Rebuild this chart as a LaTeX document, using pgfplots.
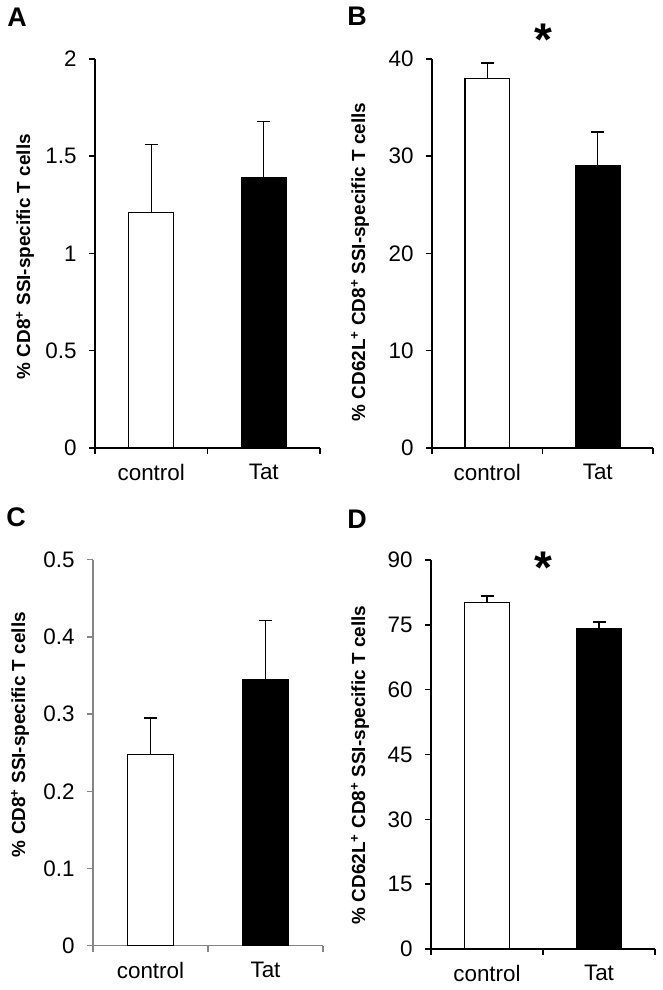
\documentclass[border=0pt]{standalone}
\usepackage{fontspec}
\setmainfont{Liberation Sans}
\usepackage{pgfplots}
\pgfplotsset{compat=1.18}
\definecolor{axgray}{HTML}{868686}
\pgfplotsset{
  panel/.style={
    scale only axis,
    axis lines*=left,
    x axis line style={-, line width=1.5bp},
    y axis line style={-, line width=1.5bp},
    xmin=-0.5, xmax=1.5,
    xtick={-0.5,0.5,1.5},
    xticklabels={},
    extra x ticks={0,1},
    extra x tick labels={control,Tat},
    extra x tick style={major tick length=0pt, tick style={draw=none}},
    tick align=outside,
    major tick length=6bp,
    tick style={line width=1.5bp, black},
    /pgf/number format/assume math mode=true,
    ticklabel style={font=\fontsize{22.5}{26}\selectfont},
    yticklabel style={xshift=-9bp},
    xticklabel style={font=\fontsize{22.5}{26}\selectfont, yshift=-13bp},
    ybar, bar width=0.4,
    enlarge x limits=false,
    clip=false,
    ymin=0,
    every axis y label/.style={rotate=90, anchor=center, font=\bfseries\fontsize{19}{21}\selectfont},
    error bars/error bar style={line width=1.4bp, black},
    error bars/error mark options={rotate=90, mark size=6.5bp, line width=1.4bp, black},
  },
  wbar/.style={fill=white, draw=black, line width=1.4bp, bar shift=0pt,
    error bars/.cd, y dir=plus, y explicit},
  bbar/.style={fill=black, draw=black, line width=1.4bp, bar shift=0pt,
    error bars/.cd, y dir=plus, y explicit},
}
\begin{document}
\begin{tikzpicture}
\path[use as bounding box] (0bp,0bp) rectangle (663bp,990bp);
% Panel A
\begin{axis}[panel, at={(95bp,542bp)}, anchor=south west, width=225bp, height=389bp,
  ymax=2, ytick={0,0.5,1,1.5,2},
  ylabel={\% CD8\textsuperscript{+} SSI-specific T cells},
  ylabel style={at={(axis description cs:-0.311,0.492)}}]
\addplot[wbar] coordinates {(0,1.21) +- (0,0.35)};
\addplot[bbar] coordinates {(1,1.39) +- (0,0.29)};
\end{axis}
% Panel B
\begin{axis}[panel, at={(432bp,542bp)}, anchor=south west, width=221bp, height=389bp,
  ymax=40, ytick={0,10,20,30,40},
  ylabel={\% CD62L\textsuperscript{+} CD8\textsuperscript{+} SSI-specific T cells},
  ylabel style={at={(axis description cs:-0.326,0.478)}}]
\addplot[wbar] coordinates {(0,38.0) +- (0,1.6)};
\addplot[bbar] coordinates {(1,29.0) +- (0,3.5)};
\node[font=\bfseries\fontsize{46}{46}\selectfont] at (rel axis cs:0.502,1.05) {*};
\end{axis}
% Panel C
\begin{axis}[panel, at={(93bp,44.3bp)}, anchor=south west, width=230bp, height=386bp,
  x axis line style={-, line width=1.5bp, axgray},
  y axis line style={-, line width=1.5bp, axgray},
  tick style={line width=1.5bp, axgray},
  ymax=0.5, ytick={0,0.1,0.2,0.3,0.4,0.5},
  ylabel={\% CD8\textsuperscript{+} SSI-specific T cells},
  ylabel style={at={(axis description cs:-0.317,0.547)}}]
\addplot[wbar] coordinates {(0,0.248) +- (0,0.047)};
\addplot[bbar] coordinates {(1,0.344) +- (0,0.077)};
\end{axis}
% Panel D
\begin{axis}[panel, at={(431bp,41bp)}, anchor=south west, width=224bp, height=389bp,
  ymax=90, ytick={0,15,30,45,60,75,90},
  ylabel={\% CD62L\textsuperscript{+} CD8\textsuperscript{+} SSI-specific T cells},
  ylabel style={at={(axis description cs:-0.317,0.473)}}]
\addplot[wbar] coordinates {(0,80.1) +- (0,1.6)};
\addplot[bbar] coordinates {(1,74.0) +- (0,1.7)};
\node[font=\bfseries\fontsize{46}{46}\selectfont] at (rel axis cs:0.5,0.98) {*};
\end{axis}
% panel letters
\node[font=\bfseries\fontsize{27}{27}\selectfont, inner sep=0] at (17bp,972.5bp) {A};
\node[font=\bfseries\fontsize{27}{27}\selectfont, inner sep=0] at (357bp,974bp) {B};
\node[font=\bfseries\fontsize{27}{27}\selectfont, inner sep=0] at (16bp,473bp) {C};
\node[font=\bfseries\fontsize{27}{27}\selectfont, inner sep=0] at (357bp,471bp) {D};
\end{tikzpicture}
\end{document}
